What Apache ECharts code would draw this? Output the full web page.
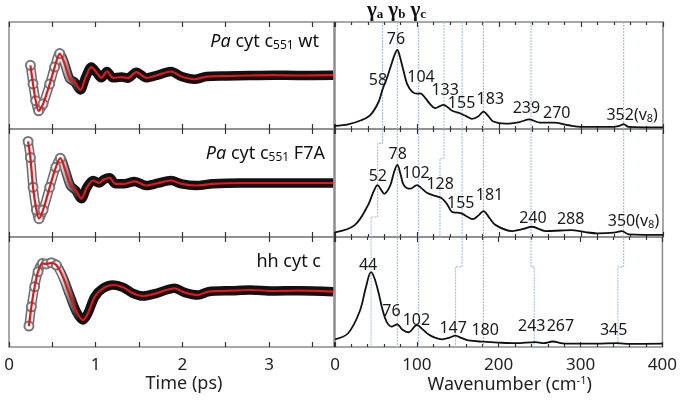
<!DOCTYPE html>
<html><head><meta charset="utf-8">
<script src="https://cdn.jsdelivr.net/npm/echarts@6/dist/echarts.min.js"></script>
<style>html,body{margin:0;padding:0;background:#fff}#c{width:680px;height:402px}</style>
</head><body><div id="c"></div>
<script>
// ---------- DATA ----------
const sampleNames = ['{i|Pa} cyt c{s|551} wt', '{i|Pa} cyt c{s|551} F7A', 'hh cyt c'];
const timeTickLabels = [0, 1, 2, 3];
const wnTickLabels = [0, 100, 200, 300, 400];

// time-domain traces (ps, arbitrary amplitude)
const timeWt  = [0.247,0.277,0.308,0.342,0.393,0.47,0.527,0.585,0.635,0.70,0.758,0.823,0.885,0.95,1.015,1.065,1.13,1.2,1.30,1.37,1.47,1.585,1.70,1.87,1.99,2.14,2.28,2.51,2.78,3.05,3.35,3.74];
const ampWt   = [0.19,-0.157,-0.47,-0.66,-0.53,-0.157,0.157,0.41,0.25,-0.063,-0.126,-0.27,-0.03,0.157,0.044,-0.044,0.075,-0.044,-0.03,-0.05,0.063,-0.044,0.0,0.075,-0.02,-0.07,-0.02,-0.01,0,0.006,0,0.006];
const timeF7A = [0.22,0.247,0.277,0.316,0.346,0.393,0.47,0.54,0.592,0.65,0.708,0.77,0.835,0.90,0.97,1.04,1.09,1.16,1.23,1.335,1.45,1.585,1.72,1.87,1.99,2.16,2.35,2.66,3.05,3.74];
const ampF7A  = [0.77,0.47,-0.077,-0.50,-0.66,-0.50,-0.077,0.29,0.46,0.23,-0.046,-0.14,-0.29,-0.077,0.046,0,0.06,0.095,-0.015,-0.015,0.03,-0.046,-0.003,0.046,-0.015,-0.046,-0.015,0,0,0];
const timeHh  = [0.23,0.258,0.296,0.335,0.385,0.43,0.488,0.546,0.62,0.70,0.777,0.854,0.91,0.99,1.085,1.2,1.315,1.43,1.546,1.70,1.815,1.91,2.03,2.18,2.30,2.58,2.78,3.05,3.35,3.74];
const ampHh   = [-0.62,-0.27,0.097,0.37,0.52,0.51,0.53,0.49,0.28,-0.055,-0.36,-0.51,-0.39,-0.085,0.067,0.127,0.085,-0.024,-0.073,-0.024,0.036,0.067,-0.012,-0.055,0.006,0.024,0.036,0.018,0.024,0.006];

// spectra (wavenumber cm-1, amplitude)
const wnWt  = [0,16,32,43,53,58,63,69,73,76,79,84,88,94,100,104,110,116,122,132,143,153,160,167,175,181,187,193,208,225,237,250,267,285,300,339,347,352,358,400];
const spWt  = [0.03,0.044,0.082,0.13,0.25,0.37,0.47,0.61,0.70,0.74,0.68,0.53,0.42,0.35,0.33,0.333,0.29,0.233,0.195,0.226,0.17,0.145,0.12,0.095,0.12,0.163,0.12,0.07,0.05,0.065,0.09,0.06,0.06,0.035,0.02,0.02,0.03,0.045,0.02,0.015];
const wnF7A = [0,24,40,47,52,56,60,67,72,76,80,84,92,100,105,112,122,130,137,143,150,155,162,168,175,181,188,196,216,230,240,257,275,288,305,320,340,350,358,400];
const spF7A = [0.043,0.11,0.29,0.42,0.48,0.44,0.40,0.47,0.60,0.667,0.58,0.48,0.447,0.48,0.455,0.41,0.38,0.36,0.30,0.23,0.225,0.217,0.185,0.165,0.20,0.24,0.18,0.11,0.055,0.075,0.095,0.055,0.06,0.064,0.045,0.034,0.04,0.055,0.025,0.02];
const wnHh  = [0,16,30,38,44,48,53,58,63,69,76,82,90,100,107,114,122,131,140,147,155,163,181,200,221,245,255,266,278,300,319,345,360,400];
const spHh  = [0.07,0.125,0.32,0.55,0.68,0.63,0.50,0.34,0.23,0.185,0.206,0.16,0.134,0.2,0.16,0.115,0.085,0.07,0.085,0.103,0.08,0.06,0.048,0.04,0.035,0.045,0.035,0.05,0.033,0.03,0.03,0.035,0.028,0.03];

// peak labels and their anchor (wavenumber, amplitude)
const peaksWt   = ['58','76','104','133','155','183','239','270','352(v{s|8})'];
const peaksWtAt = [[53,0.45],[75,0.83],[105.5,0.48],[135,0.36],[155,0.23],[190,0.27],[234,0.19],[271,0.14],[363,0.12]];
const peaksF7A   = ['52','78','102','128','155','181','240','288','350(v{s|8})'];
const peaksF7AAt = [[52.8,0.553],[77,0.76],[99.4,0.584],[128.8,0.483],[154,0.31],[189,0.38],[242,0.17],[288,0.156],[364.6,0.14]];
const peaksHh   = ['44','76','102','147','180','243','267','345'];
const peaksHhAt = [[41,0.74],[69.5,0.32],[100,0.236],[145,0.164],[184,0.145],[241,0.185],[276,0.185],[341,0.145]];

// mode guide lines across the three spectra: [wavenumber, panel depth 0..3]
const guide1 = [[58,0],[58,1.12],[52,1.12],[52,1.8],[44,1.8],[44,3]];
const guide2 = [[76,0],[76,3]];
const guide3 = [[102,0],[102,3]];
const guide4 = [[133,0],[133,1.26],[128,1.26],[128,1.99]];
const guide5 = [[155,0],[155,2.26],[147,2.26],[147,3]];
const guide6 = [[181,0],[181,3]];
const guide7 = [[239,0],[239,2.26],[243,2.26],[243,3]];
const guide8 = [[352,0],[352,2.26],[345,2.26],[345,3]];
const gammaLabels = ['a','b','c'];

// ---------- CHART ----------
const zip = (a, b) => a.map((v, i) => [v, b[i]]);
const chart = echarts.init(document.getElementById('c'));
const FONT = 'Noto Sans';
const tops = [22, 129, 237], heights = [107, 108, 110];
const grids = [], xAxes = [], yAxes = [], series = [];
const borderColor = '#8a8a8a';

for (let col = 0; col < 2; col++) {
  for (let r = 0; r < 3; r++) {
    const g = col * 3 + r;
    grids.push({ left: col === 0 ? 9 : 335, width: col === 0 ? 325 : 328, top: tops[r], height: heights[r],
      show: true, borderColor: borderColor, borderWidth: 1.5, backgroundColor: 'transparent' });
    const base = col === 0
      ? { min: 0, max: 3.75, interval: 0.5 }
      : { min: 0, max: 400, interval: 100 };
    const last = r === 2;
    ['bottom', 'top'].forEach(pos => {
      xAxes.push(Object.assign({
        type: 'value', gridIndex: g, position: pos,
        axisLine: { show: false, onZero: false }, splitLine: { show: false },
        axisTick: { show: true, inside: true, length: 5, lineStyle: { color: '#333', width: 1.2 } },
        minorTick: { show: col === 1, splitNumber: 5, length: 3, lineStyle: { color: '#333', width: 1.2 } },
        axisLabel: {
          show: last && pos === 'bottom', fontSize: 17, color: '#222', margin: 10, fontFamily: FONT,
          formatter: v => {
            const arr = col === 0 ? timeTickLabels : wnTickLabels;
            return arr.indexOf(v) >= 0 ? String(v) : '';
          }
        }
      }, base));
    });
    yAxes.push({ type: 'value', gridIndex: g, show: false,
      min: col === 0 ? -1 : 0, max: 1 });
  }
}
// axis names
xAxes[4].name = 'Time (ps)';
xAxes[4].nameLocation = 'middle';
xAxes[4].nameGap = 28;
xAxes[4].nameTextStyle = { fontSize: 18, color: '#222', fontFamily: FONT, padding: [0, 0, 0, 25] };
xAxes[10].name = '{n|Wavenumber (cm}{sup|-1}{n|)}';
xAxes[10].nameLocation = 'middle';
xAxes[10].nameGap = 28;
xAxes[10].nameTextStyle = { fontSize: 18, color: '#222', fontFamily: FONT, padding: [0, 0, 0, 22],
  rich: { n: { fontSize: 18, color: '#222', fontFamily: FONT },
          sup: { fontSize: 11, color: '#222', fontFamily: FONT, verticalAlign: 'top', padding: [0, 0, 8, 0] } } };

// overlay grid for guide lines
grids.push({ left: 335, width: 328, top: 22, height: 325, show: false });
xAxes.push({ type: 'value', gridIndex: 6, min: 0, max: 400, show: false });
yAxes.push({ type: 'value', gridIndex: 6, min: 0, max: 3, inverse: true, show: false });
[guide1, guide2, guide3, guide4, guide5, guide6, guide7, guide8].forEach(gd => {
  series.push({ type: 'line', xAxisIndex: 12, yAxisIndex: 6, data: gd, symbol: 'none', silent: true, z: 1,
    lineStyle: { color: '#a3bfe3', width: 1.1, type: [2, 1] } });
});

// time traces
function grad(times, tSwitch, early, late) {
  const t0 = times[0], t1 = times[times.length - 1];
  const o = (tSwitch - t0) / (t1 - t0);
  return { type: 'linear', x: 0, y: 0, x2: 1, y2: 0, colorStops: [
    { offset: 0, color: early }, { offset: Math.max(0, o - 0.03), color: early },
    { offset: Math.min(1, o + 0.03), color: late }, { offset: 1, color: late }] };
}
[[timeWt, ampWt], [timeF7A, ampF7A], [timeHh, ampHh]].forEach(([t, a], r) => {
  const d = zip(t, a);
  const common = { type: 'line', xAxisIndex: 2 * r, yAxisIndex: r, symbol: 'none', smooth: 0.3, silent: true };
  series.push(Object.assign({}, common, { data: d, z: 2, lineStyle: { width: 9.5, color: grad(t, 0.72, '#6a6a6a', '#111') } }));
  series.push(Object.assign({}, common, { z: 3, lineStyle: { width: 6.5, color: grad(t, 0.72, '#f4f4f4', '#111') },
    showSymbol: true, symbolSize: 9,
    itemStyle: { color: '#777', borderColor: '#777', borderWidth: 1 },
    data: d.map(p => p[0] < 0.62 ? { value: p, symbol: 'emptyCircle' } : { value: p, symbol: 'none' }) }));
  series.push(Object.assign({}, common, { data: d, z: 4, lineStyle: { width: 2.2, color: '#e3161b' } }));
});

// spectra
const peakRich = { s: { fontSize: 11, color: '#222', fontFamily: FONT, verticalAlign: 'bottom', padding: [6, 0, 0, 0] } };
[[wnWt, spWt, peaksWt, peaksWtAt], [wnF7A, spF7A, peaksF7A, peaksF7AAt], [wnHh, spHh, peaksHh, peaksHhAt]].forEach(([w, s, pk, at], r) => {
  const g = 3 + r;
  series.push({ type: 'line', xAxisIndex: 2 * g, yAxisIndex: g, data: zip(w, s), symbol: 'none', smooth: 0.35,
    silent: true, z: 3, lineStyle: { width: 1.8, color: '#111' } });
  series.push({ type: 'scatter', xAxisIndex: 2 * g, yAxisIndex: g, symbolSize: 1, silent: true, z: 5,
    itemStyle: { color: '#fff', opacity: 0 },
    data: pk.map((p, i) => ({ name: p, value: at[i] })),
    label: { show: true, position: [0, 0], align: 'center', verticalAlign: 'middle', formatter: p => p.name,
      fontSize: 16, color: '#1a1a1a', opacity: 1, textBorderWidth: 0, fontFamily: FONT, rich: peakRich } });
});

// sample name titles and gamma header
const nameRich = {
  i: { fontSize: 18, fontStyle: 'italic', color: '#111', fontFamily: FONT },
  s: { fontSize: 12, color: '#111', fontFamily: FONT, verticalAlign: 'bottom', padding: [9, 0, 0, 0] }
};
const titles = [
  { text: sampleNames[0], right: 361, top: 31 },
  { text: sampleNames[1], right: 355, top: 143 },
  { text: sampleNames[2], right: 359, top: 253 }
].map(t => Object.assign(t, { padding: 0, textStyle: { fontSize: 18, fontWeight: 'normal', color: '#111', fontFamily: FONT, rich: nameRich } }));
titles.push({
  text: gammaLabels.map(c => '{g|γ}{s|' + c + '}').join(''), left: 367, top: 0, padding: 0,
  textStyle: { rich: {
    g: { fontSize: 21, fontWeight: 'bold', fontFamily: 'Liberation Serif', color: '#111' },
    s: { fontSize: 13, fontWeight: 'bold', fontFamily: 'Liberation Serif', color: '#111', verticalAlign: 'bottom', padding: [8, 5, 0, 0] }
  } }
});

chart.setOption({
  animation: false,
  textStyle: { fontFamily: FONT },
  title: titles,
  grid: grids, xAxis: xAxes, yAxis: yAxes, series: series
});
</script>
</body></html>
